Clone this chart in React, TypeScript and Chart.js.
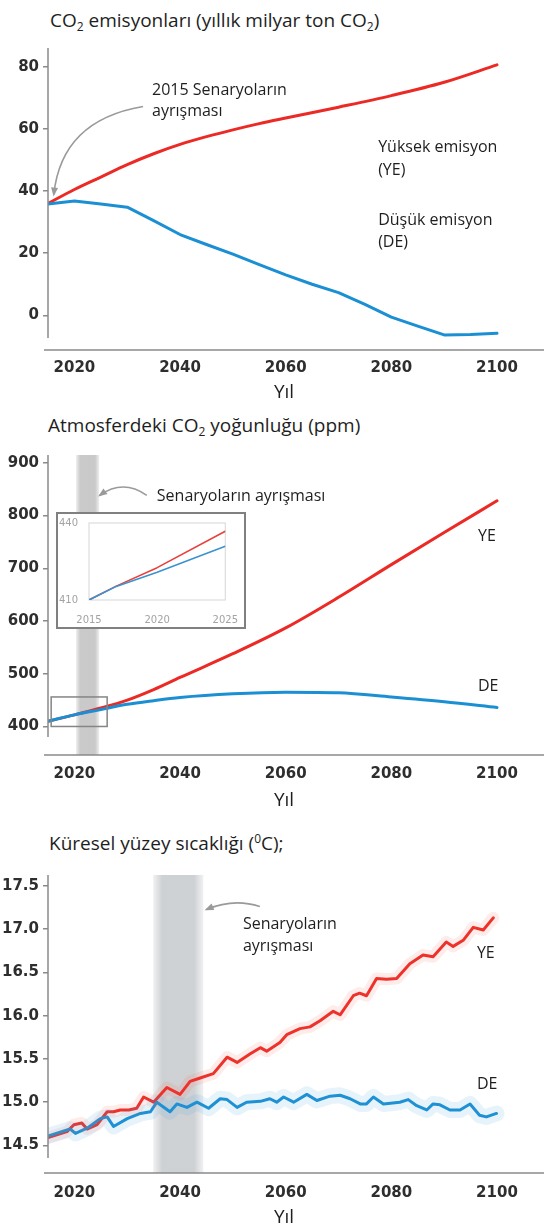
import React, { useEffect, useRef } from 'react';
import { Chart, registerables } from 'chart.js';
Chart.register(...registerables);

// ---------- DATA ----------
const xTicksMain = [2020, 2040, 2060, 2080, 2100];

// Panel 1: CO2 emissions (Gt CO2 / yr)
const emisYearsYE = [2015, 2020, 2025, 2030, 2035, 2040, 2045, 2050, 2055, 2060, 2070, 2080, 2090, 2100];
const emisYE = [36, 40.5, 44.5, 48.5, 52, 55, 57.5, 59.7, 61.7, 63.5, 67, 70.7, 75, 80.6];
const emisYearsDE = [2015, 2020, 2025, 2030, 2035, 2040, 2045, 2050, 2055, 2060, 2065, 2070, 2075, 2080, 2085, 2090, 2095, 2100];
const emisDE = [35.8, 36.8, 35.8, 34.8, 30.5, 26, 22.8, 19.7, 16.3, 13, 10, 7.3, 3.5, -0.6, -3.5, -6.3, -6.2, -5.8];
const emisTicks = [0, 20, 40, 60, 80];

// Panel 2: CO2 concentration (ppm)
const ppmYears = [2015, 2020, 2025, 2030, 2035, 2040, 2050, 2060, 2070, 2080, 2090, 2100];
const ppmYE = [410, 422, 435, 450, 470, 493, 538, 587, 645, 707, 768, 828];
const ppmDE = [410, 422, 432, 442, 449, 455, 462, 465, 464, 456, 447, 436];
const ppmTicks = [400, 500, 600, 700, 800, 900];

// Inset (2015-2025)
const insetYears = [2015, 2017, 2020, 2025];
const insetYE = [410, 415.4, 422.6, 436.8];
const insetDE = [410, 415.3, 420.8, 430.9];
const insetXTicks = [2015, 2020, 2025];
const insetYTicks = [410, 440];

// Panel 3: global surface temperature (°C)
const tempYearsYE = [2015, 2018.6, 2019.9, 2021.4, 2022.4, 2024.3, 2026.2, 2027.4, 2028.7, 2030.3, 2031.8, 2033.1, 2035, 2037.5, 2040, 2041.9, 2043.8, 2046.3, 2048.9, 2050.8, 2053.3, 2055.2, 2056.4, 2058.9, 2060.2, 2062.7, 2064.6, 2066.5, 2069, 2070.3, 2072.8, 2074, 2075.3, 2077.2, 2079.1, 2081, 2083.5, 2086, 2087.9, 2090.4, 2091.7, 2093.6, 2095.5, 2097.4, 2099.3];
const tempYE = [14.59, 14.66, 14.74, 14.76, 14.69, 14.74, 14.89, 14.89, 14.91, 14.91, 14.93, 15.06, 15.0, 15.17, 15.09, 15.24, 15.28, 15.33, 15.52, 15.46, 15.56, 15.63, 15.59, 15.69, 15.78, 15.85, 15.87, 15.94, 16.05, 16.01, 16.23, 16.26, 16.23, 16.43, 16.42, 16.43, 16.6, 16.7, 16.68, 16.85, 16.8, 16.87, 17.02, 16.99, 17.13];
const tempYearsDE = [2015, 2019.2, 2020.2, 2022.4, 2024.9, 2026.2, 2027.4, 2030, 2032.5, 2034.4, 2035.6, 2038.1, 2039.4, 2041.3, 2043.2, 2045.4, 2047.6, 2048.9, 2050.8, 2052.6, 2055.2, 2057, 2058.3, 2059.6, 2061.5, 2064, 2065.9, 2068.4, 2070.3, 2072.2, 2074.1, 2075.3, 2076.6, 2078.5, 2081.6, 2083.2, 2084.8, 2086.7, 2087.9, 2089.2, 2091.1, 2093, 2094.9, 2096.7, 2098, 2099.9];
const tempDE = [14.61, 14.69, 14.64, 14.7, 14.81, 14.83, 14.72, 14.81, 14.87, 14.89, 15.0, 14.89, 14.98, 14.94, 15.0, 14.93, 15.04, 15.03, 14.94, 15.0, 15.01, 15.04, 15.0, 15.06, 15.0, 15.09, 15.02, 15.07, 15.08, 15.04, 14.98, 14.98, 15.06, 14.98, 15.0, 15.03, 14.96, 14.91, 14.98, 14.97, 14.91, 14.91, 14.98, 14.85, 14.83, 14.87];
const tempTicks = [14.5, 15.0, 15.5, 16.0, 16.5, 17.0, 17.5];

// ---------- STYLE ----------
const RED = '#ec2a25';
const BLUE = '#1b8fd3';
const AXIS = '#8a8a8a';
const TICK_FONT = { family: '"DejaVu Sans"', size: 15, weight: 'bold' as const };
const ANNOT_FONT = '16px "Open Sans"';

const pts = (xs: number[], ys: number[]) => xs.map((x, i) => ({ x, y: ys[i] }));

function lineDs(xs: number[], ys: number[], color: string, width: number, smooth = false) {
  return {
    data: pts(xs, ys),
    borderColor: color,
    borderWidth: width,
    pointRadius: 0,
    tension: smooth ? 0.4 : 0,
    cubicInterpolationMode: smooth ? ('monotone' as const) : ('default' as const),
    fill: false,
    borderJoinStyle: 'round' as const,
    borderCapStyle: 'round' as const,
  };
}

function baseOptions(p: any) {
  return {
    responsive: false,
    animation: false,
    devicePixelRatio: 1,
    layout: { padding: { top: p.top, left: 0, right: p.right || 0, bottom: 0 } },
    plugins: { legend: { display: false }, tooltip: { enabled: false }, title: { display: false } },
    scales: {
      x: {
        type: 'linear',
        min: p.xMin,
        max: p.xMax,
        afterFit: (s: any) => { s.height = p.xH; },
        afterBuildTicks: (s: any) => { s.ticks = p.xTicks.map((v: number) => ({ value: v })); },
        grid: { display: false },
        border: { display: false },
        ticks: { font: p.xFont || TICK_FONT, color: p.tickColor || '#2e2e2e', padding: p.xPad, maxRotation: 0, autoSkip: false, callback: (v: any) => String(v) },
      },
      y: {
        type: 'linear',
        min: p.yMin,
        max: p.yMax,
        afterFit: (s: any) => { s.width = p.yW; },
        afterBuildTicks: (s: any) => { s.ticks = p.yTicks.map((v: number) => ({ value: v })); },
        grid: p.yTickMarks
          ? { display: true, drawOnChartArea: false, drawTicks: true, tickLength: 5, color: AXIS, lineWidth: 1.5 }
          : { display: false },
        border: { display: false },
        ticks: { font: p.yFont || TICK_FONT, color: p.tickColor || '#2e2e2e', padding: p.yPad, autoSkip: false, callback: p.yFmt || ((v: any) => String(v)) },
      },
    },
  };
}

function axisLinesPlugin(topInset: number, bottomInset: number) {
  return {
    id: 'axisLines',
    afterDraw(chart: any) {
      const { ctx, chartArea: a } = chart;
      ctx.save();
      ctx.strokeStyle = AXIS;
      ctx.lineWidth = 1.5;
      ctx.beginPath();
      ctx.moveTo(a.left, a.top + topInset);
      ctx.lineTo(a.left, a.bottom - bottomInset);
      ctx.moveTo(a.left - 4, a.bottom);
      ctx.lineTo(a.right, a.bottom);
      ctx.stroke();
      ctx.restore();
    },
  };
}

function text(ctx: any, s: string, x: number, y: number, align = 'left') {
  ctx.save();
  ctx.font = ANNOT_FONT;
  ctx.fillStyle = '#1e1e1e';
  ctx.textAlign = align;
  ctx.textBaseline = 'middle';
  ctx.fillText(s, x, y);
  ctx.restore();
}

function curveArrow(ctx: any, x0: number, y0: number, cx: number, cy: number, x1: number, y1: number) {
  ctx.save();
  ctx.strokeStyle = '#9a9a9a';
  ctx.fillStyle = '#9a9a9a';
  ctx.lineWidth = 1.6;
  ctx.beginPath();
  ctx.moveTo(x0, y0);
  ctx.quadraticCurveTo(cx, cy, x1, y1);
  ctx.stroke();
  const ang = Math.atan2(y1 - cy, x1 - cx);
  const L = 7, W = 3.5;
  ctx.beginPath();
  ctx.moveTo(x1 + Math.cos(ang) * 2, y1 + Math.sin(ang) * 2);
  ctx.lineTo(x1 - Math.cos(ang) * L - Math.sin(ang) * W, y1 - Math.sin(ang) * L + Math.cos(ang) * W);
  ctx.lineTo(x1 - Math.cos(ang) * L + Math.sin(ang) * W, y1 - Math.sin(ang) * L - Math.cos(ang) * W);
  ctx.closePath();
  ctx.fill();
  ctx.restore();
}

function band(chart: any, x0v: number, x1v: number, rgb: string, topInset: number) {
  const { ctx, chartArea: a, scales } = chart;
  const x0 = scales.x.getPixelForValue(x0v);
  const x1 = scales.x.getPixelForValue(x1v);
  const g = ctx.createLinearGradient(x0, 0, x1, 0);
  g.addColorStop(0, `rgba(${rgb},0.25)`);
  g.addColorStop(0.18, `rgba(${rgb},0.85)`);
  g.addColorStop(0.82, `rgba(${rgb},0.85)`);
  g.addColorStop(1, `rgba(${rgb},0.25)`);
  ctx.save();
  ctx.fillStyle = g;
  ctx.fillRect(x0, a.top + topInset, x1 - x0, a.bottom - a.top - topInset);
  ctx.restore();
}

// ---------- CONFIGS ----------
const X_MIN = 2015;
const X_MAX = 2108.9;

function cfgEmissions() {
  const annot = {
    id: 'annotEmis',
    afterDatasetsDraw(chart: any) {
      const { ctx, scales } = chart;
      const X = (v: number) => scales.x.getPixelForValue(v);
      const Y = (v: number) => scales.y.getPixelForValue(v);
      text(ctx, '2015 Senaryoların', X(2034.7), Y(72.3));
      text(ctx, 'ayrışması', X(2034.7), Y(65.7));
      curveArrow(ctx, X(2033.0), Y(67.2), X(2017.6), Y(62.8), X(2016.1), Y(38.9));
      text(ctx, 'Yüksek emisyon', X(2077.5), Y(53.9));
      text(ctx, '(YE)', X(2077.5), Y(46.5));
      text(ctx, 'Düşük emisyon', X(2077.5), Y(30.6));
      text(ctx, '(DE)', X(2077.5), Y(23.3));
    },
  };
  return {
    type: 'line',
    data: { datasets: [lineDs(emisYearsDE, emisDE, BLUE, 3), lineDs(emisYearsYE, emisYE, RED, 3, true)] },
    options: baseOptions({ top: 10, xH: 60, yW: 48, xMin: X_MIN, xMax: X_MAX, yMin: -11.16, yMax: 87.65, xTicks: xTicksMain, yTicks: emisTicks, xPad: 1, yPad: 4, yTickMarks: true }),
    plugins: [axisLinesPlugin(5, 12), annot],
  };
}

function cfgPpm() {
  const annot = {
    id: 'annotPpm',
    beforeDatasetsDraw(chart: any) {
      band(chart, 2020.3, 2024.7, '192,192,192', 2);
    },
    afterDatasetsDraw(chart: any) {
      const { ctx, scales } = chart;
      const X = (v: number) => scales.x.getPixelForValue(v);
      const Y = (v: number) => scales.y.getPixelForValue(v);
      text(ctx, 'Senaryoların ayrışması', X(2035.6), Y(836.6));
      curveArrow(ctx, X(2033.7), Y(838.4), X(2029.2), Y(870), X(2024.8), Y(838.4));
      text(ctx, 'YE', X(2096.4), Y(760));
      text(ctx, 'DE', X(2096.4), Y(476.5));
      ctx.save();
      ctx.strokeStyle = '#858585';
      ctx.lineWidth = 1.5;
      const rx0 = X(2015.6), rx1 = X(2026.2), ry0 = Y(456), ry1 = Y(400);
      ctx.strokeRect(rx0, ry0, rx1 - rx0, ry1 - ry0);
      ctx.restore();
    },
  };
  return {
    type: 'line',
    data: { datasets: [lineDs(ppmYears, ppmDE, BLUE, 3, true), lineDs(ppmYears, ppmYE, RED, 3, true)] },
    options: baseOptions({ top: 8, xH: 55, yW: 48, xMin: X_MIN, xMax: X_MAX, yMin: 345.9, yMax: 918.7, xTicks: xTicksMain, yTicks: ppmTicks, xPad: 2, yPad: 4, yTickMarks: true }),
    plugins: [axisLinesPlugin(2, 18), annot],
  };
}

function cfgInset() {
  const frame = {
    id: 'insetFrame',
    beforeDatasetsDraw(chart: any) {
      const { ctx, chartArea: a } = chart;
      ctx.save();
      ctx.strokeStyle = '#d6d6d6';
      ctx.lineWidth = 1;
      ctx.strokeRect(a.left, a.top, a.right - a.left, a.bottom - a.top);
      ctx.restore();
    },
  };
  const small = { family: '"DejaVu Sans"', size: 10 };
  return {
    type: 'line',
    data: { datasets: [lineDs(insetYears, insetDE, '#3a93cf', 1.6), lineDs(insetYears, insetYE, '#e8403a', 1.6)] },
    options: baseOptions({ top: 6, right: 10, xH: 27, yW: 31, xMin: 2015, xMax: 2025, yMin: 410, yMax: 440, xTicks: insetXTicks, yTicks: insetYTicks, xPad: 6, yPad: 3, yTickMarks: false, xFont: small, yFont: small, tickColor: '#a3a3a3' }),
    plugins: [frame],
  };
}

function cfgTemp() {
  const annot = {
    id: 'annotTemp',
    beforeDatasetsDraw(chart: any) {
      band(chart, 2034.9, 2044.4, '198,201,204', 2);
    },
    afterDatasetsDraw(chart: any) {
      const { ctx, scales } = chart;
      const X = (v: number) => scales.x.getPixelForValue(v);
      const Y = (v: number) => scales.y.getPixelForValue(v);
      text(ctx, 'Senaryoların', X(2051.9), Y(17.057));
      text(ctx, 'ayrışması', X(2051.9), Y(16.795));
      curveArrow(ctx, X(2055.1), Y(17.26), X(2050.2), Y(17.36), X(2045.0), Y(17.227));
      text(ctx, 'YE', X(2096.2), Y(16.716));
      text(ctx, 'DE', X(2096.2), Y(15.205));
    },
  };
  return {
    type: 'line',
    data: {
      datasets: [
        lineDs(tempYearsDE, tempDE, 'rgba(60,160,225,0.12)', 16),
        lineDs(tempYearsYE, tempYE, 'rgba(250,110,90,0.13)', 12),
        lineDs(tempYearsDE, tempDE, BLUE, 3),
        lineDs(tempYearsYE, tempYE, RED, 3),
      ],
    },
    options: baseOptions({ top: 8, xH: 52, yW: 48, xMin: X_MIN, xMax: X_MAX, yMin: 14.182, yMax: 17.648, xTicks: xTicksMain, yTicks: tempTicks, xPad: 3, yPad: 4, yTickMarks: true, yFmt: (v: any) => Number(v).toFixed(1) }),
    plugins: [axisLinesPlugin(2, 15), annot],
  };
}

// ---------- COMPONENTS ----------
function ChartCanvas({ make, left, top, width, height }: any) {
  const ref = useRef<HTMLCanvasElement>(null);
  useEffect(() => {
    const chart = new Chart(ref.current as HTMLCanvasElement, make());
    return () => chart.destroy();
  }, []);
  return (
    <canvas
      ref={ref}
      width={width}
      height={height}
      style={{ position: 'absolute', left, top, width, height, display: 'block' }}
    />
  );
}

const titleStyle: React.CSSProperties = {
  position: 'absolute',
  fontFamily: '"Open Sans", sans-serif',
  fontSize: 19,
  lineHeight: '24px',
  color: '#1e1e1e',
  whiteSpace: 'nowrap',
};
const subStyle: React.CSSProperties = { fontSize: 12, verticalAlign: -4, lineHeight: 0 };
const supStyle: React.CSSProperties = { fontSize: 12, verticalAlign: 7, lineHeight: 0 };
const yilStyle: React.CSSProperties = {
  position: 'absolute',
  fontFamily: '"Open Sans", sans-serif',
  fontSize: 19,
  lineHeight: '24px',
  color: '#1e1e1e',
  transform: 'translateX(-50%)',
};

export default function App() {
  return (
    <div style={{ position: 'absolute', left: 0, top: 0, width: 544, height: 1225, background: '#fff', overflow: 'hidden' }}>
      <div style={{ ...titleStyle, left: 50, top: 8 }}>
        CO<sub style={subStyle}>2</sub> emisyonları (yıllık milyar ton CO<sub style={subStyle}>2</sub>)
      </div>
      <ChartCanvas make={cfgEmissions} left={0} top={30} width={544} height={380} />
      <div style={{ ...yilStyle, left: 284, top: 379 }}>Yıl</div>

      <div style={{ ...titleStyle, left: 48, top: 413 }}>
        Atmosferdeki CO<sub style={subStyle}>2</sub> yoğunluğu (ppm)
      </div>
      <ChartCanvas make={cfgPpm} left={0} top={440} width={544} height={370} />
      <div style={{ position: 'absolute', left: 56, top: 512, width: 190, height: 117, boxSizing: 'border-box', border: '2px solid #808080', background: '#fff' }}>
        <ChartCanvas make={cfgInset} left={0} top={0} width={186} height={113} />
      </div>
      <div style={{ ...yilStyle, left: 284, top: 787 }}>Yıl</div>

      <div style={{ ...titleStyle, left: 49, top: 831 }}>
        Küresel yüzey sıcaklığı (<sup style={supStyle}>0</sup>C);
      </div>
      <ChartCanvas make={cfgTemp} left={0} top={860} width={544} height={365} />
      <div style={{ ...yilStyle, left: 284, top: 1204 }}>Yıl</div>
    </div>
  );
}
